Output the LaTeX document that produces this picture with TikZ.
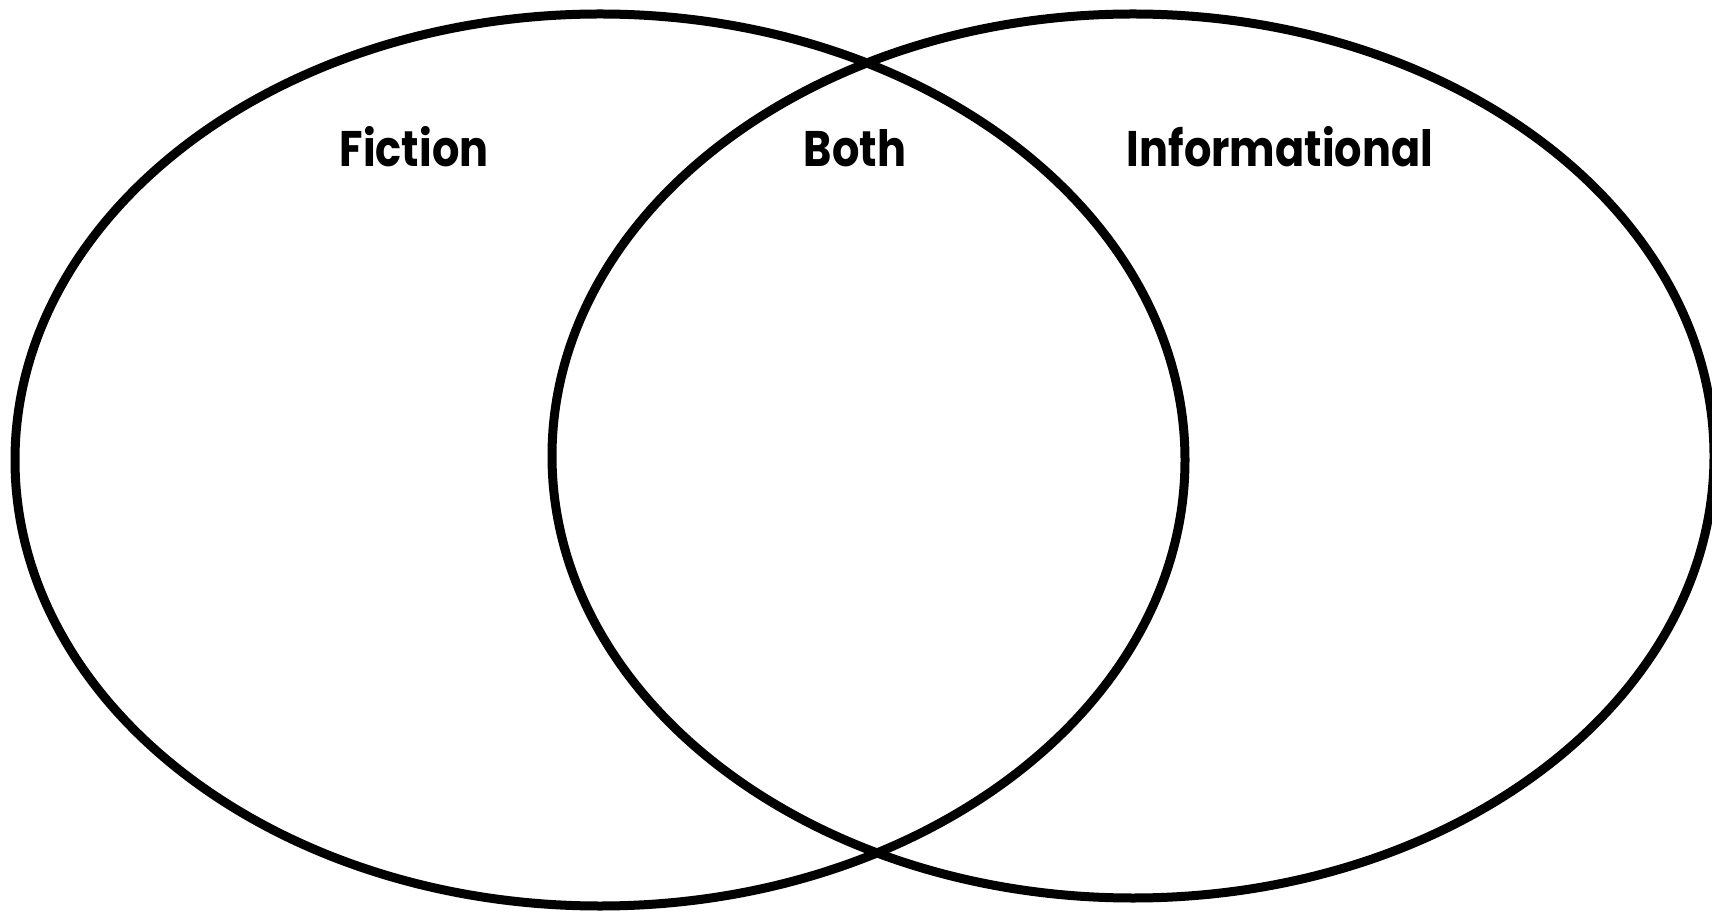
\documentclass[tikz,border=0pt]{standalone}
\usepackage{fontspec}
\usepackage{graphicx}
\setmainfont{Poppins}
\usetikzlibrary{shapes.geometric}
\newcommand{\vlabel}[1]{\scalebox{0.86}[1]{#1}}
\begin{document}
\begin{tikzpicture}[x=1pt,y=1pt,
  venn/.style={ellipse, draw=black, line width=9pt, inner sep=0pt, outer sep=0pt},
  lbl/.style={anchor=base, inner sep=0pt, font=\fontsize{50}{60}\selectfont\bfseries}]
\clip (0,0) rectangle (1712,911);
\useasboundingbox (0,0) rectangle (1712,911);
\node[venn, minimum width=1170pt, minimum height=892pt] (fic) at (600,451) {};
\node[venn, minimum width=1162pt, minimum height=884pt] (inf) at (1133,455) {};
\node[lbl] (tfic) at (414,744) {\vlabel{Fiction}};
\node[lbl] (tboth) at (855,744) {\vlabel{Both}};
\node[lbl] (tinf) at (1280,744) {\vlabel{Informational}};
\end{tikzpicture}
\end{document}
